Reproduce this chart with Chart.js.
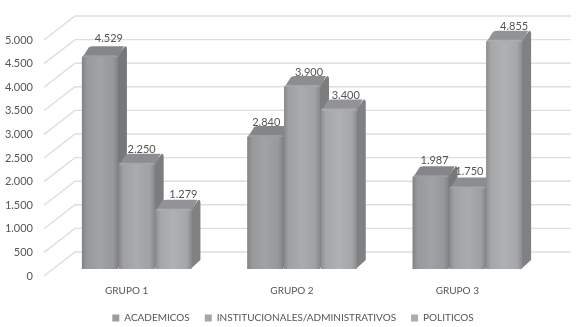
<!DOCTYPE html>
<html>
<head>
<meta charset="utf-8">
<title>Grupos</title>
<script src="https://cdn.jsdelivr.net/npm/chart.js@4"></script>
<style>
  html, body { margin: 0; padding: 0; background: #fff; }
  #grafico { display: block; filter: blur(0.35px); }
</style>
</head>
<body>
<canvas id="grafico" width="577" height="327"></canvas>
<script>
// Datos
const grupos = ["GRUPO 1", "GRUPO 2", "GRUPO 3"];
const academicos = [4529, 2840, 1987];
const institucionales = [2250, 3900, 1750];
const politicos = [1279, 3400, 4855];
const nombresSeries = ["ACADEMICOS", "INSTITUCIONALES/ADMINISTRATIVOS", "POLITICOS"];

// Estilos
const coloresFrente = ["#9c9d9f", "#a5a6a8", "#abacae"];
const coloresLado = ["#77787a", "#7c7d7f", "#808183"];
const coloresTecho = ["#85868a", "#8c8d90", "#929396"];
const TEXTO = "#555555";
const FUENTE = "Lato";

// Desplazamientos del falso 3D
const PISO = { x: 10, y: -7 };      // de la escala al frente de la barra
const FONDO = { x: 31, y: -24 };    // de la escala a la pared del fondo
const PROF = { x: 9, y: -9 };       // profundidad de cada barra
const LEYENDA = { x: 23, y: 6 };
// ajuste de cada etiqueta, por grupo y serie
const ajusteEtiqueta = [[9, -4], [5, 0], [10, -1], [1, 1], [7, 1], [7, 0], [4, -2], [2, -2], [10, 0]];

function miles(v) {
  return String(v).replace(/\B(?=(\d{3})+$)/g, ".");
}

// Rejilla: linea diagonal del piso y linea en la pared del fondo
const rejilla3d = {
  id: "rejilla3d",
  afterLayout(chart) {
    chart.legend.left += LEYENDA.x;
    chart.legend.right += LEYENDA.x;
    chart.legend.top += LEYENDA.y;
    chart.legend.bottom += LEYENDA.y;
    // las etiquetas del eje x se recortan a su caja
    chart.scales.x.bottom += 14;
  },
  beforeDatasetsDraw(chart) {
    const { ctx, chartArea, scales } = chart;
    ctx.save();
    ctx.strokeStyle = "#dedede";
    ctx.lineWidth = 1.4;
    scales.y.ticks.forEach(t => {
      const y = scales.y.getPixelForValue(t.value);
      ctx.beginPath();
      ctx.moveTo(chartArea.left, y);
      ctx.lineTo(chartArea.left + FONDO.x, y + FONDO.y);
      ctx.lineTo(chartArea.right + FONDO.x, y + FONDO.y);
      ctx.stroke();
    });
    ctx.restore();
  }
};

function trazarLado(ctx, b, color) {
  const der = b.x + b.width / 2;
  ctx.fillStyle = color;
  ctx.beginPath();
  ctx.moveTo(der - 1, b.y + 2);
  ctx.lineTo(der + PROF.x - 2, b.y + PROF.y);
  ctx.quadraticCurveTo(der + PROF.x, b.y + PROF.y, der + PROF.x, b.y + PROF.y + 3);
  ctx.lineTo(der + PROF.x, b.base + PROF.y);
  ctx.lineTo(der - 1, b.base);
  ctx.closePath();
  ctx.fill();
}

function trazarTecho(ctx, b, color) {
  const izq = b.x - b.width / 2;
  const der = b.x + b.width / 2;
  ctx.fillStyle = color;
  ctx.beginPath();
  ctx.moveTo(izq, b.y + 3);
  ctx.lineTo(izq + PROF.x - 2, b.y + PROF.y + 1);
  ctx.quadraticCurveTo(izq + PROF.x, b.y + PROF.y, izq + PROF.x + 2, b.y + PROF.y);
  ctx.lineTo(der + PROF.x - 3, b.y + PROF.y);
  ctx.lineTo(der, b.y + 3);
  ctx.closePath();
  ctx.fill();
}

function sombrear(ctx, b) {
  const izq = b.x - b.width / 2;
  const g = ctx.createLinearGradient(izq, 0, izq + b.width, 0);
  g.addColorStop(0, "rgba(70,70,72,0.30)");
  g.addColorStop(0.14, "rgba(70,70,72,0.05)");
  g.addColorStop(0.5, "rgba(255,255,255,0.06)");
  g.addColorStop(0.86, "rgba(70,70,72,0.05)");
  g.addColorStop(1, "rgba(70,70,72,0.30)");
  ctx.fillStyle = g;
  ctx.fillRect(izq, b.y + 2, b.width, b.base - b.y - 2);
}

// Se dibuja de izquierda a derecha para que cada barra tape el lado de la anterior
const barras3d = {
  id: "barras3d",
  beforeDatasetDraw() {
    return false;
  },
  afterDatasetsDraw(chart) {
    const ctx = chart.ctx;
    ctx.save();
    ctx.translate(PISO.x, PISO.y);
    chart.data.datasets.forEach((ds, i) => {
      const barras = chart.getDatasetMeta(i).data;
      barras.forEach(b => {
        trazarLado(ctx, b, coloresLado[i]);
        trazarTecho(ctx, b, coloresTecho[i]);
        b.draw(ctx);
        sombrear(ctx, b);
      });
    });
    ctx.restore();

    ctx.save();
    ctx.fillStyle = TEXTO;
    ctx.font = "11px " + FUENTE;
    ctx.textAlign = "center";
    ctx.textBaseline = "middle";
    chart.data.datasets.forEach((ds, i) => {
      chart.getDatasetMeta(i).data.forEach((b, j) => {
        const aj = ajusteEtiqueta[j * 3 + i];
        ctx.fillText(miles(ds.data[j]), b.x + PISO.x + aj[0], b.y + PISO.y - 13 + aj[1]);
      });
    });
    ctx.restore();
  }
};

const series = [academicos, institucionales, politicos];

new Chart(document.getElementById("grafico"), {
  type: "bar",
  data: {
    labels: grupos,
    datasets: series.map((valores, i) => ({
      label: nombresSeries[i],
      data: valores,
      backgroundColor: coloresFrente[i],
      borderRadius: { topLeft: 3, topRight: 3 },
      borderSkipped: "bottom",
      clip: false,
      categoryPercentage: 0.667,
      barPercentage: 0.98
    }))
  },
  options: {
    responsive: false,
    animation: false,
    layout: { padding: { top: 40, right: 37, left: 0, bottom: 0 } },
    plugins: {
      tooltip: { enabled: false },
      legend: {
        position: "bottom",
        labels: {
          boxWidth: 7,
          boxHeight: 7,
          padding: 15,
          color: TEXTO,
          font: { family: FUENTE, size: 10 }
        }
      }
    },
    scales: {
      x: {
        grid: { display: false, drawTicks: false },
        border: { display: false },
        afterFit: s => { s.height = 16; },
        ticks: { color: TEXTO, font: { family: FUENTE, size: 10 }, padding: 9, maxRotation: 0 }
      },
      y: {
        min: 0,
        max: 5000,
        grid: { display: false, drawTicks: false },
        border: { display: false },
        afterFit: s => { s.width = 44; },
        ticks: {
          stepSize: 500,
          color: TEXTO,
          padding: 11,
          font: { family: FUENTE, size: 11 },
          callback: v => miles(v)
        }
      }
    }
  },
  plugins: [rejilla3d, barras3d]
});
</script>
</body>
</html>
